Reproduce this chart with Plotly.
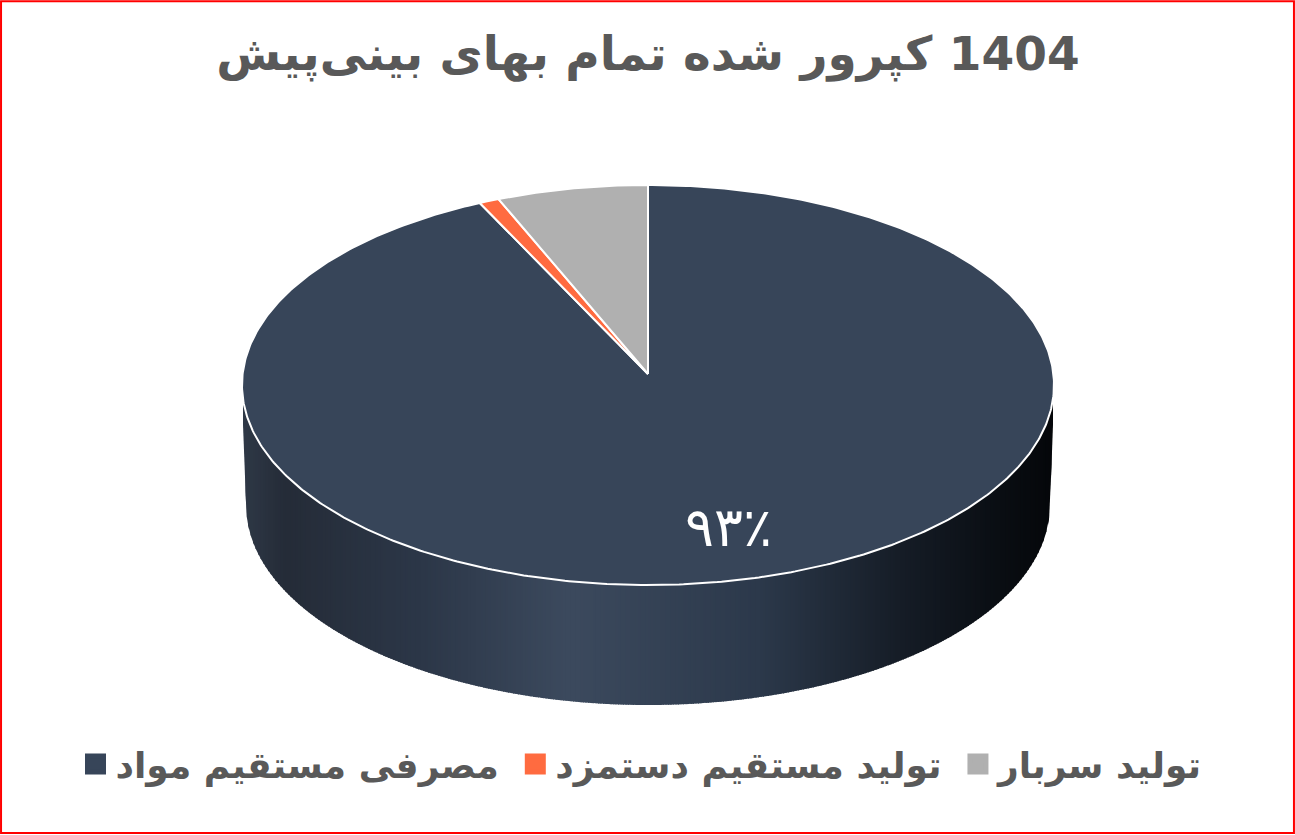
import numpy as np
import plotly.graph_objects as go

# ---- data ----
categories = ["مصرفی مستقیم مواد", "تولید مستقیم دستمزد", "تولید سربار"]
values = [93.2, 0.8, 6.0]
colors = ["#374559", "#FF6B40", "#B0B0B0"]
title_text = "\u200f1404 کپرور شده تمام بهای بینی\u200cپیش"
main_label = "۹۳٪"

# ---- drawing geometry (canvas pixels, used as axis units) ----
W, H = 1295, 835
CX, CY, RX, RY = 648, 385, 406, 200
APEX_Y = 374
BOT_CY, BOT_RX = 505, 402
EDGE_TOP_Y = 398
FONT = "DejaVu Sans, sans-serif"
TXT = "#595959"

fig = go.Figure()

# side wall: vertical strips, shaded left to right
stop_x = [243, 285, 420, 570, 760, 900, 1000, 1054]
stop_r = [0x2F, 0x25, 0x2C, 0x3C, 0x2C, 0x16, 0x0A, 0x05]
stop_g = [0x39, 0x2C, 0x37, 0x4A, 0x39, 0x1D, 0x0E, 0x07]
stop_b = [0x47, 0x38, 0x48, 0x5E, 0x4B, 0x27, 0x13, 0x0A]
STEP = 2.5
for x0 in np.arange(CX - RX + 1, CX + RX - 1, STEP):
    x1 = min(x0 + STEP + 1, CX + RX - 1)
    xs = np.linspace(x0, x1, 4)
    d = np.abs(xs - CX)
    top = CY + RY * np.sqrt(np.clip(1 - (d / RX) ** 2, 0, 1)) - 3
    top = np.maximum(top, EDGE_TOP_Y - 4)
    bot = BOT_CY + RY * np.sqrt(np.clip(1 - (d / BOT_RX) ** 2, 0, 1))
    # beyond the lower ellipse the wall edge runs up and slightly outwards
    bot = np.where(d > BOT_RX, BOT_CY - (d - BOT_RX) / (RX - BOT_RX) * (BOT_CY - EDGE_TOP_Y), bot)
    m = x0 + STEP / 2
    col = "rgb(%d,%d,%d)" % (np.interp(m, stop_x, stop_r), np.interp(m, stop_x, stop_g), np.interp(m, stop_x, stop_b))
    fig.add_trace(go.Scatter(x=np.r_[xs, xs[::-1]], y=np.r_[top, bot[::-1]], mode="lines",
                             fill="toself", fillcolor=col, line=dict(width=0),
                             showlegend=False, hoverinfo="skip"))

# top face: slices clockwise from 12 o'clock, angles from the values
start = 0.0
total = sum(values)
for name, v, c in zip(categories, values, colors):
    end = start + v / total * 2 * np.pi
    t = np.linspace(start, end, max(4, int(v * 6)))
    xs = np.r_[CX, CX + RX * np.sin(t), CX]
    ys = np.r_[APEX_Y, CY - RY * np.cos(t), APEX_Y]
    fig.add_trace(go.Scatter(x=xs, y=ys, mode="lines", fill="toself", fillcolor=c,
                             line=dict(color="white", width=2), name=name,
                             showlegend=False, hoverinfo="name"))
    # legend entry
    fig.add_trace(go.Scatter(x=[None], y=[None], mode="markers", name="<b>" + name + "</b>\u00a0",
                             marker=dict(symbol="square", size=16, color=c, line=dict(color=c, width=5))))
    start = end

fig.add_annotation(x=728, y=527, xref="x", yref="y", text=main_label, showarrow=False,
                   font=dict(family=FONT, size=54, color="white"))

fig.update_layout(
    width=W, height=H, margin=dict(l=0, r=0, t=0, b=0),
    paper_bgcolor="white", plot_bgcolor="white",
    xaxis=dict(range=[0, W], visible=False, fixedrange=True),
    yaxis=dict(range=[H, 0], visible=False, fixedrange=True),
    title=dict(text="<b>" + title_text + "</b>", x=648 / W, xanchor="center", y=1 - 54 / H, yanchor="middle",
               font=dict(family=FONT, size=47, color=TXT)),
    legend=dict(orientation="h", x=648 / W, xanchor="center", y=1 - 764 / H, yanchor="middle",
                font=dict(family=FONT, size=36, color=TXT), itemsizing="trace", bgcolor="rgba(0,0,0,0)"),
    shapes=[dict(type="rect", xref="paper", yref="paper", x0=0.0008, x1=0.9992, y0=0.0024, y1=0.9985,
                 line=dict(color="#FF0000", width=2), fillcolor="rgba(0,0,0,0)")],
)
fig.write_html("out.html", post_script="document.body.style.margin='0';",
               config=dict(displayModeBar=False))
